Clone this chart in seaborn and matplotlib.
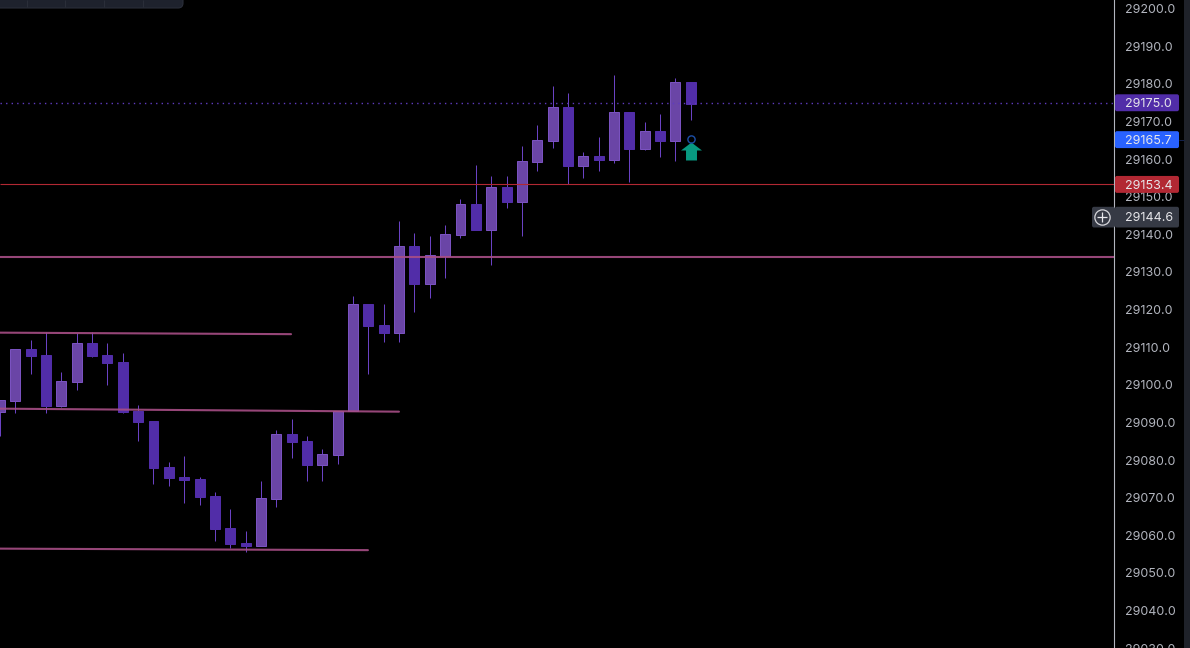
import numpy as np
import pandas as pd
import matplotlib
matplotlib.use("Agg")
import matplotlib.pyplot as plt
from matplotlib.patches import FancyBboxPatch
from matplotlib.path import Path
import seaborn as sns

# candle values
opens = [29092.8, 29095.7, 29109.6, 29108.0, 29094.4, 29100.8, 29111.2, 29108.0, 29106.1, 29093.0,
         29090.4, 29078.2, 29075.5, 29074.9, 29070.4, 29061.9, 29057.9, 29057.1, 29069.6, 29086.9,
         29085.1, 29078.7, 29081.3, 29093.0, 29121.5, 29115.9, 29113.8, 29137.0, 29126.8, 29134.3,
         29139.9, 29148.1, 29141.2, 29152.6, 29148.6, 29159.2, 29164.8, 29173.9, 29158.2, 29160.9,
         29159.8, 29172.5, 29162.7, 29167.5, 29164.8, 29180.5]
highs = [29095.9, 29109.6, 29112.0, 29114.1, 29103.4, 29113.8, 29114.1, 29111.2, 29108.5, 29094.8,
         29090.4, 29079.5, 29081.1, 29075.5, 29071.5, 29067.0, 29061.1, 29074.4, 29088.0, 29091.0,
         29086.4, 29083.0, 29093.0, 29123.6, 29121.5, 29121.5, 29143.6, 29140.4, 29139.6, 29142.5,
         29149.4, 29158.4, 29155.5, 29155.5, 29163.5, 29169.1, 29179.4, 29177.6, 29161.9, 29165.9,
         29182.4, 29172.5, 29169.9, 29172.0, 29181.6, 29180.5]
lows = [29086.4, 29092.5, 29102.9, 29092.5, 29094.1, 29098.6, 29107.4, 29100.0, 29092.5, 29085.1,
        29073.6, 29073.1, 29068.6, 29068.0, 29058.5, 29056.6, 29055.5, 29057.1, 29067.5, 29080.6,
        29074.4, 29074.4, 29079.0, 29093.0, 29102.9, 29111.4, 29111.4, 29119.4, 29123.1, 29128.4,
        29139.1, 29141.2, 29131.9, 29147.0, 29139.6, 29156.9, 29163.0, 29153.4, 29155.0, 29156.9,
        29159.0, 29153.9, 29162.4, 29160.6, 29159.5, 29170.4]
closes = [29095.9, 29109.6, 29107.7, 29094.4, 29101.0, 29111.2, 29107.7, 29105.8, 29092.8, 29090.1,
          29077.9, 29075.2, 29074.7, 29070.2, 29061.7, 29057.7, 29057.1, 29069.9, 29086.9, 29084.8,
          29078.7, 29081.6, 29093.0, 29121.5, 29115.7, 29113.8, 29137.0, 29126.8, 29134.5, 29140.1,
          29148.1, 29141.2, 29152.6, 29148.6, 29159.5, 29165.1, 29173.9, 29158.2, 29160.9, 29159.8,
          29172.5, 29162.7, 29167.5, 29164.8, 29180.5, 29174.7]

# drawn lines: bar index and price at each end
flat_level = 29133.9
trend_x = [[0, 18.96], [0, 25.99], [0, 23.97]]
trend_y = [[29113.9, 29113.5], [29093.7, 29092.9], [29056.5, 29056.1]]
red_level = 29153.4
last_level = 29175.0

signal_bar = 45
signal_arrow = 29162.2
signal_circle = 29165.4

tick_values = list(range(29030, 29201, 10))
tag_values = [29175.0, 29165.7, 29153.4]
tag_places = [29175.0, 29165.2, 29153.3]
tag_colors = ["#512da8", "#2962ff", "#b22833"]
cross_value = 29144.6

BAR_STEP = 15.35
AXIS_PX = 1114
Y_TOP = 29202.31
Y_BOTTOM = 29030.09
TEXT_NUDGE = 0.35

sns.set_theme(style="dark", rc={"axes.facecolor": "black", "figure.facecolor": "black"})
plt.rcParams["font.family"] = ["Inter", "DejaVu Sans"]

df = pd.DataFrame({"bar": range(len(opens)), "open": opens, "high": highs, "low": lows, "close": closes})
df["body"] = (df["close"] - df["open"]).abs()
df["base"] = df[["open", "close"]].min(axis=1)
df["up"] = df["close"] > df["open"]

fig = plt.figure(figsize=(11.9, 6.48), dpi=100)
ax = fig.add_axes([0, 0, AXIS_PX / 1190, 1])
price_ax = fig.add_axes([AXIS_PX / 1190, 0, 1 - AXIS_PX / 1190, 1], sharey=ax)

# --- candles ---
ax.vlines(df["bar"], df["low"], df["high"], color="#6a42c4", lw=0.72, zorder=2)
for is_up, fill, edge in [(True, "#6a45a6", "#7a52c0"), (False, "#512da8", "#512da8")]:
    part = df[df["up"] == is_up]
    sns.barplot(data=part, x="bar", y="body", bottom=part["base"].values, native_scale=True,
                width=0.65, color=fill, saturation=1, errorbar=None, edgecolor=edge,
                linewidth=0.72, zorder=3, ax=ax, legend=False)

# --- levels and trend lines ---
x_end = AXIS_PX / BAR_STEP
pink = "#a84e86"
ax.hlines(flat_level, 0, x_end, color=pink, lw=1.5, alpha=0.9, zorder=4)
for xs, ys in zip(trend_x, trend_y):
    sns.lineplot(x=xs, y=ys, color=pink, lw=1.5, alpha=0.9, zorder=4, ax=ax, legend=False)
ax.hlines(red_level, 0, x_end, color="#b22833", lw=0.8, zorder=4)
ax.hlines(last_level, 0, x_end, color="#5f3bc0", lw=1.0, linestyles=(0, (1, 3)), zorder=4)

# --- signal arrow ---
arrow_path = Path([(0, 9), (10.5, 1), (5.5, 1), (5.5, -9), (-5.5, -9), (-5.5, 1), (-10.5, 1), (0, 9)], closed=True)
ax.plot(signal_bar, signal_arrow, marker=arrow_path, ms=15.1, color="#089981", mew=0, zorder=5)
ax.plot(signal_bar, signal_circle, marker="o", ms=5.2, mfc="none", mec="#1c4fa8", mew=1.0, zorder=6)

ax.set_xlim(0, x_end)
ax.set_ylim(Y_BOTTOM, Y_TOP)
ax.set_xlabel("")
ax.set_ylabel("")
ax.set_xticks([])
ax.grid(False)
for spine in ax.spines.values():
    spine.set_visible(False)

# --- price scale ---
price_ax.set_xlim(AXIS_PX, 1190)
price_ax.set_xticks([])
price_ax.grid(False)
for spine in price_ax.spines.values():
    spine.set_visible(False)
price_ax.spines["left"].set_visible(True)
price_ax.spines["left"].set_color("#b2b5be")
price_ax.spines["left"].set_linewidth(0.8)
ax.tick_params(left=False, labelleft=False)
price_ax.tick_params(left=False, labelleft=False)
price_ax.axvspan(1184, 1190, color="#1f222a", lw=0, zorder=1)
price_ax.hlines(tag_places[1], 1179, 1184, color="#12204a", lw=0.72, zorder=1)
for value in tick_values:
    price_ax.text(1124.5, value - TEXT_NUDGE, f"{value:.1f}", color="#b2b5be", fontsize=9.0,
                  va="center", ha="left", zorder=2)


def draw_tag(value, place, color, height=4.5, zorder=3):
    price_ax.add_patch(FancyBboxPatch((1115, place - height / 2), 64, height,
                                      boxstyle="round,pad=0,rounding_size=2", mutation_aspect=0.2658,
                                      fc=color, ec="none", zorder=zorder))
    price_ax.text(1124.5, place - TEXT_NUDGE, f"{value:.1f}", color="#e6e6ea", fontsize=9.0,
                  va="center", ha="left", zorder=zorder + 1)


for value, place, color in zip(tag_values, tag_places, tag_colors):
    draw_tag(value, place, color)

# crosshair tag with the plus button
draw_tag(cross_value, cross_value, "#363a45", height=5.5, zorder=5)
price_ax.add_patch(FancyBboxPatch((1092, cross_value - 2.75), 23, 5.5, boxstyle="round,pad=0,rounding_size=2",
                                  mutation_aspect=0.2658, fc="#363a45", ec="none", zorder=5, clip_on=False))
price_ax.plot(1102, cross_value, marker="o", ms=11, mfc="none", mec="#d8d8dc", mew=0.9, zorder=7, clip_on=False)
price_ax.plot(1102, cross_value, marker="+", ms=6.5, mec="#e8e8ec", mew=0.9, zorder=7, clip_on=False)

# toolbar stub at the top left, in pixel coordinates
overlay = fig.add_axes([0, 0, 1, 1], facecolor="none")
overlay.set_xlim(0, 1190)
overlay.set_ylim(648, 0)
overlay.axis("off")
overlay.add_patch(FancyBboxPatch((-10, -10), 193, 18, boxstyle="round,pad=0,rounding_size=5",
                                 fc="#1e222d", ec="#2a2e39", lw=0.8))
overlay.vlines([26.5, 65, 104, 143], 0, 7, color="#2a2e39", lw=0.8)

fig.savefig("out.png", dpi=100, facecolor="black")
